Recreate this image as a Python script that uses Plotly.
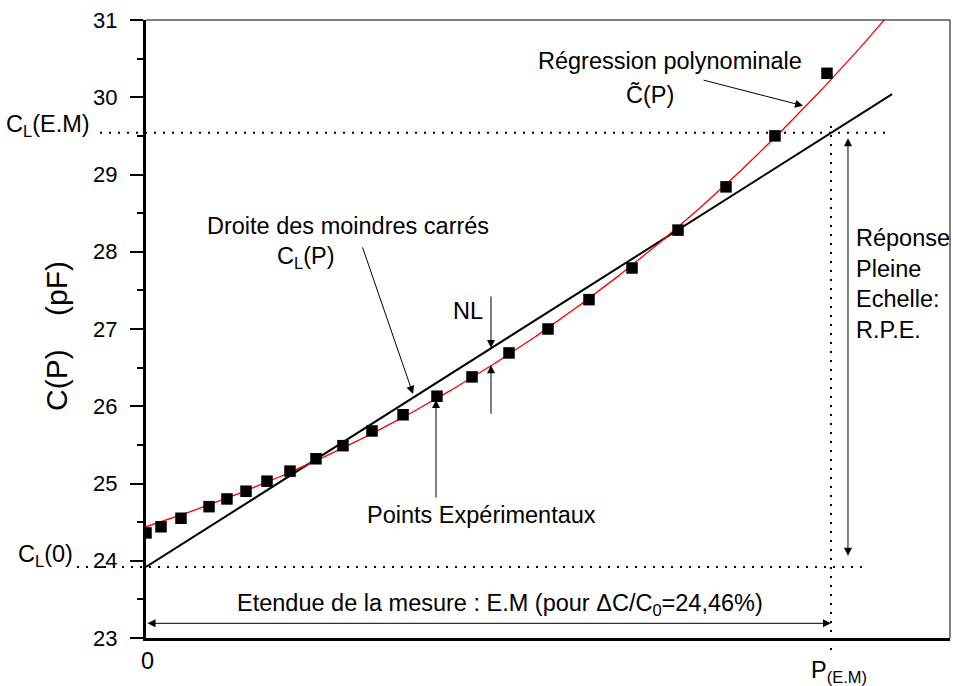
import numpy as np
import plotly.graph_objects as go

# Measured capacitance C(P) (pF) against applied pressure P (arbitrary units)
p_points = [0.0, 1.87, 4.35, 7.84, 10.07, 12.44, 15.05, 17.91, 21.14, 24.50, 28.11,
            31.97, 36.19, 40.55, 45.15, 50.00, 55.10, 60.45, 66.17, 72.14, 78.23, 84.70]
c_points = [24.36, 24.44, 24.55, 24.70, 24.80, 24.90, 25.03, 25.16, 25.32, 25.49, 25.68,
            25.89, 26.13, 26.38, 26.69, 27.00, 27.38, 27.79, 28.28, 28.84, 29.50, 30.31]

# Polynomial regression C~(P), sampled along the fitted curve
fit_p = [0.0, 17.9, 31.6, 42.9, 50.0, 56.5, 60.45, 66.17, 72.14, 78.0, 81.7, 83.8, 90.0]
fit_c = [24.44, 25.13, 25.86, 26.53, 27.03, 27.47, 27.83, 28.28, 28.84, 29.52, 29.89,
         30.07, 30.74]

# Least-squares straight line C_L(P), given by its two end points
cl_p = [0.0, 92.8]
cl_c = [23.92, 30.04]

# Full-scale range
p_em = 85.2      # P(E.M)
cl_em = 29.54    # C_L(E.M)
cl_0 = 23.92     # C_L(0)

y_ticks = [23, 24, 25, 26, 27, 28, 29, 30, 31]

FONT = "Liberation Sans, Arial, sans-serif"
X0, X1, Y0, Y1 = 146, 950, 20, 638   # plot frame in page pixels

# Smooth cubic through the regression samples
coef = np.polyfit(fit_p, fit_c, 3)
p_curve = np.linspace(0, 100, 400)
c_curve = np.polyval(coef, p_curve)


def page(xp, yp):
    """Position given in page pixels, expressed in paper coordinates."""
    return dict(xref="paper", yref="paper",
                x=(xp - X0) / (X1 - X0), y=(Y1 - yp) / (Y1 - Y0))


fig = go.Figure()

fig.add_trace(go.Scatter(x=cl_p, y=cl_c, mode="lines",
                         line=dict(color="black", width=2), hoverinfo="skip"))
fig.add_trace(go.Scatter(x=p_curve, y=c_curve, mode="lines",
                         line=dict(color="#ff0000", width=1.3), hoverinfo="skip"))
fig.add_trace(go.Scatter(x=p_points, y=c_points, mode="markers",
                         marker=dict(symbol="square", size=11.5, color="black")))

dots = dict(color="black", width=2, dash="2px,7px")
shapes = [
    # thin top and right frame
    dict(type="line", xref="paper", yref="paper", x0=0, x1=1, y0=1, y1=1,
         line=dict(color="black", width=1)),
    dict(type="line", xref="paper", yref="paper", x0=1, x1=1, y0=0, y1=1,
         line=dict(color="black", width=1)),
    # C_L(E.M) and C_L(0) levels
    dict(type="line", xref="paper", yref="y", x0=(100 - X0) / (X1 - X0),
         x1=(888 - X0) / (X1 - X0), y0=cl_em, y1=cl_em, line=dots),
    dict(type="line", xref="paper", yref="y", x0=(77 - X0) / (X1 - X0),
         x1=(866 - X0) / (X1 - X0), y0=cl_0, y1=cl_0, line=dots),
    # P(E.M) vertical
    dict(type="line", xref="x", yref="paper", x0=p_em, x1=p_em,
         y0=(Y1 - 650) / (Y1 - Y0), y1=(Y1 - 124) / (Y1 - Y0), line=dots),
]

txt = dict(family=FONT, size=23.5, color="black")
arrow = dict(showarrow=True, arrowhead=2, arrowsize=1.6, arrowwidth=1,
             arrowcolor="black", text="")

annotations = [
    # arrows
    dict(x=42.91, y=26.755, ax=0, ay=-53, **arrow),
    dict(x=42.91, y=26.53, ax=0, ay=50, **arrow),
    dict(x=33.21, y=26.16, ax=-51, ay=-148, **arrow),
    dict(x=36.07, y=26.08, ax=0, ay=99, **arrow),
    dict(x=81.72, y=29.89, ax=-101, ay=-26, **arrow),
    dict(x=p_em, y=23.19, ax=-685, ay=0, arrowside="end+start",
         startarrowhead=2, startarrowsize=1.6, **arrow),
    dict(x=87.31, y=29.47, ax=0, ay=419, arrowside="end+start",
         startarrowhead=2, startarrowsize=1.6, **arrow),
    # labels
    dict(text="Droite des moindres carrés", **page(348, 226)),
    dict(text="C<sub>L</sub>(P)", **page(305, 257)),
    dict(text="NL", **page(468, 311)),
    dict(text="Points Expérimentaux", **page(481, 515)),
    dict(text="Régression polynominale", **page(670, 61)),
    dict(text="C\u0303(P)", **page(650, 95)),
    dict(text="Réponse<br>Pleine<br>Echelle:<br>R.P.E.", align="left",
         xanchor="left", **page(854, 284)),
    dict(text="Etendue de la mesure : E.M (pour \u0394C/C<sub>0</sub>=24,46%)",
         **page(500, 604)),
    dict(text="C<sub>L</sub>(E.M)", xanchor="right", **page(92, 126)),
    dict(text="C<sub>L</sub>(0)", xanchor="right", **page(75, 555)),
    dict(text="0", **page(147, 661)),
    dict(text="P<sub>(E.M)</sub>", **page(839, 671)),
    dict(text="C(P)    (pF)", textangle=-90, font=dict(family=FONT, size=30, color="black"),
         **page(57, 336)),
]
for a in annotations:
    a.setdefault("font", txt)
    a.setdefault("showarrow", False)
    a.setdefault("xanchor", "center")
    a.setdefault("yanchor", "middle")

fig.update_layout(
    width=953, height=686, autosize=False,
    margin=dict(l=X0, r=953 - X1, t=Y0, b=686 - Y1, pad=0),
    paper_bgcolor="white", plot_bgcolor="white",
    showlegend=False,
    font=txt,
    shapes=shapes,
    annotations=annotations,
    xaxis=dict(range=[0, 100], showgrid=False, zeroline=False, showticklabels=False,
               ticks="", showline=True, linecolor="black", linewidth=3),
    yaxis=dict(range=[23, 31], tickvals=y_ticks, showgrid=False, zeroline=False,
               ticks="outside", ticklen=13, tickwidth=2, tickcolor="black",
               showline=True, linecolor="black", linewidth=3,
               tickfont=dict(family=FONT, size=22, color="black"),
               ticklabelstandoff=8,
               minor=dict(dtick=0.5, ticks="outside", ticklen=6, tickwidth=2,
                          tickcolor="black", showgrid=False)),
)

fig.write_html("out.html")
